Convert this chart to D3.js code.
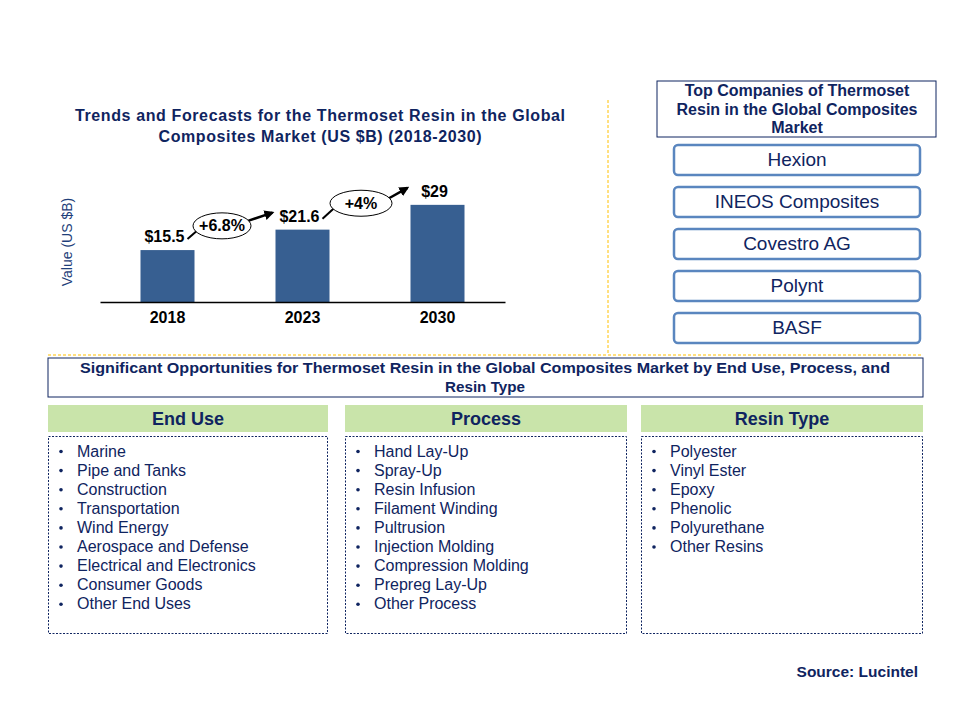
<!DOCTYPE html>
<html><head><meta charset="utf-8">
<script src="https://cdn.jsdelivr.net/npm/d3@7"></script>
<style>body{margin:0;background:#fff}svg{display:block;font-family:Arial,"Liberation Sans",sans-serif}</style>
</head><body><svg id="c" width="960" height="720"></svg>
<script>
const years = ["2018","2023","2030"];
const values = [15.5, 21.6, 29];
const valueLabels = ["$15.5","$21.6","$29"];
const cagrLabels = ["+6.8%","+4%"];
const titleLines = ["Trends  and  Forecasts  for  the  Thermoset  Resin  in  the  Global","Composites  Market  (US $B) (2018-2030)"];
const companiesTitle = ["Top Companies of Thermoset","Resin in the Global Composites","Market"];
const companies = ["Hexion","INEOS Composites","Covestro AG","Polynt","BASF"];
const oppTitle = ["Significant Opportunities for Thermoset Resin in the Global Composites Market  by End Use, Process, and","Resin Type"];
const segHeaders = ["End Use","Process","Resin Type"];
const endUses = ["Marine","Pipe and Tanks","Construction","Transportation","Wind Energy","Aerospace and Defense","Electrical and Electronics","Consumer Goods","Other End Uses"];
const processes = ["Hand Lay-Up","Spray-Up","Resin Infusion","Filament Winding","Pultrusion","Injection  Molding","Compression Molding","Prepreg Lay-Up","Other Process"];
const resinTypes = ["Polyester","Vinyl Ester","Epoxy","Phenolic","Polyurethane","Other Resins"];
const segLists = [endUses, processes, resinTypes];

const NAVY = "#0f2460", BAR = "#375f91", ORANGE = "#ffc000";
const svg = d3.select("#c");

// title
const titleLen = [490, 323];
svg.append("g").selectAll("text").data(titleLines).join("text")
  .attr("x", 320).attr("y", (d,i)=>121+i*21).attr("text-anchor","middle")
  .attr("font-size",16).attr("font-weight","bold").attr("fill",NAVY)
  .attr("textLength",(d,i)=>titleLen[i]).attr("lengthAdjust","spacing").text(d=>d);

// chart
const x = d3.scaleBand().domain(years).range([100,505]).paddingInner(0.6).paddingOuter(0.3);
const y = d3.scaleLinear().domain([0, 32]).range([302, 302-32*3.35]);
const g = svg.append("g");
g.selectAll("rect.bar").data(values).join("rect").attr("class","bar")
  .attr("x",(d,i)=>x(years[i])).attr("width",x.bandwidth())
  .attr("y",d=>y(d)).attr("height",d=>y(0)-y(d)).attr("fill",BAR);
const xAxis = g.append("g").attr("transform","translate(0,302)").call(d3.axisBottom(x).tickSize(0).tickPadding(10));
xAxis.select(".domain").attr("stroke","#000").attr("stroke-width",1.3);
xAxis.selectAll("text").attr("font-size",16).attr("font-weight","bold").attr("fill","#000").attr("font-family","Arial,'Liberation Sans',sans-serif");
g.selectAll("text.vl").data(values).join("text").attr("class","vl")
  .attr("x",(d,i)=>x(years[i])+x.bandwidth()/2-3).attr("y",d=>y(d)-8)
  .attr("text-anchor","middle").attr("font-size",16).attr("font-weight","bold").attr("fill","#000")
  .text((d,i)=>valueLabels[i]);
svg.append("text").attr("transform","translate(72,242) rotate(-90)").attr("text-anchor","middle")
  .attr("font-size",14).attr("fill","#1f3f7a").text("Value (US $B)");

// CAGR ellipses and arrows
const defs = svg.append("defs");
defs.append("marker").attr("id","ah").attr("viewBox","0 0 10 10").attr("refX",8).attr("refY",5)
  .attr("markerWidth",4).attr("markerHeight",4).attr("orient","auto")
  .append("path").attr("d","M0,0L10,5L0,10z").attr("fill","#000");
cagrLabels.forEach((lab,i)=>{
  const x0 = x(years[i])+x.bandwidth()/2, x1 = x(years[i+1])+x.bandwidth()/2;
  const lab0y = y(values[i])-13, lab1y = y(values[i+1])-13;
  const cx = (x0+x1)/2 - 13 + i*4, cy = (lab0y+lab1y)/2 - 1;
  const rx = i===0?29:31, ry = 13;
  g.append("path").attr("d",`M${x0+20},${lab0y+2} L${cx-rx+4},${cy+5}`).attr("stroke","#000").attr("stroke-width",2).attr("fill","none");
  g.append("path").attr("d",`M${cx+rx-3},${cy-5} L${x1-30},${lab1y-4}`).attr("stroke","#000").attr("stroke-width",2.5).attr("fill","none").attr("marker-end","url(#ah)");
  g.append("ellipse").attr("cx",cx).attr("cy",cy).attr("rx",rx).attr("ry",ry).attr("fill","#fff").attr("stroke","#000").attr("stroke-width",1);
  g.append("text").attr("x",cx).attr("y",cy+5.5).attr("text-anchor","middle").attr("font-size",16).attr("font-weight","bold").attr("fill","#000").text(lab);
});

// separators
svg.append("line").attr("x1",608).attr("x2",608).attr("y1",100).attr("y2",355).attr("stroke",ORANGE).attr("stroke-dasharray","3,2");
svg.append("line").attr("x1",48).attr("x2",923).attr("y1",355).attr("y2",355).attr("stroke",ORANGE).attr("stroke-dasharray","3,2");

// companies
svg.append("rect").attr("x",657).attr("y",81).attr("width",279).attr("height",56).attr("fill","#fff").attr("stroke",NAVY).attr("stroke-width",1);
svg.append("g").selectAll("text").data(companiesTitle).join("text").attr("x",797).attr("y",(d,i)=>96+i*18.5)
  .attr("text-anchor","middle").attr("font-size",16).attr("font-weight","bold").attr("fill",NAVY).text(d=>d);
const cy0 = d3.scaleBand().domain(companies).range([145,343]).paddingInner(12/42);
const cg = svg.append("g").selectAll("g").data(companies).join("g").attr("transform",d=>`translate(674,${cy0(d)})`);
cg.append("rect").attr("width",246).attr("height",cy0.bandwidth()).attr("rx",4).attr("fill","#fff").attr("stroke","#5a86bf").attr("stroke-width",2.5);
cg.append("text").attr("x",123).attr("y",20.5).attr("text-anchor","middle").attr("font-size",19).attr("fill",NAVY).text(d=>d);

// opportunities
svg.append("rect").attr("x",48).attr("y",358).attr("width",875).attr("height",39).attr("fill","#fff").attr("stroke",NAVY).attr("stroke-width",1);
svg.append("g").selectAll("text").data(oppTitle).join("text").attr("x",485).attr("y",(d,i)=>373+i*19)
  .attr("text-anchor","middle").attr("font-size",15.5).attr("font-weight","bold").attr("fill",NAVY)
  .attr("textLength",(d,i)=>i===0?810:80).attr("lengthAdjust","spacingAndGlyphs").text(d=>d);

const colX = [48,345,641], colW = [280,282,282];
segHeaders.forEach((h,i)=>{
  svg.append("rect").attr("x",colX[i]).attr("y",405).attr("width",colW[i]).attr("height",27).attr("fill","#c9e4aa");
  svg.append("text").attr("x",colX[i]+colW[i]/2).attr("y",425).attr("text-anchor","middle").attr("font-size",18).attr("font-weight","bold").attr("fill",NAVY).text(h);
  svg.append("rect").attr("x",colX[i]+0.5).attr("y",436.5).attr("width",colW[i]-1).attr("height",197).attr("fill","none").attr("stroke",NAVY).attr("stroke-dasharray","2,1.5").attr("stroke-width",1);
  const items = svg.append("g").selectAll("g").data(segLists[i]).join("g").attr("transform",(d,j)=>`translate(${colX[i]},${456.5+j*19.1})`);
  items.append("circle").attr("cx",13).attr("cy",-5).attr("r",1.8).attr("fill",NAVY);
  items.append("text").attr("x",29).attr("y",0).attr("font-size",16).attr("fill",NAVY).text(d=>d);
});

svg.append("text").attr("x",918).attr("y",677).attr("text-anchor","end").attr("font-size",15.5).attr("font-weight","bold").attr("fill",NAVY).text("Source: Lucintel");
</script></body></html>
